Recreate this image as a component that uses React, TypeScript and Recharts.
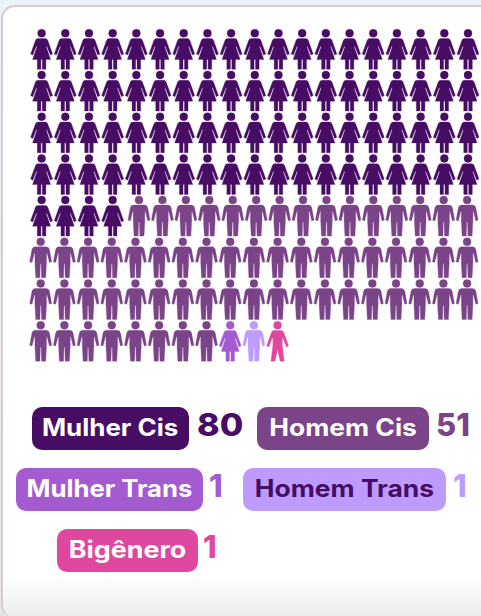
import { Scatter, ScatterChart, XAxis, YAxis } from 'recharts';

const categories = ['Mulher Cis', 'Homem Cis', 'Mulher Trans', 'Homem Trans', 'Bigênero'];
const labelValues = [80, 51, 1, 1, 1];
// the reference draws 61 Homem Cis figures although its label says 51
const iconCounts = [80, 61, 1, 1, 1];
const iconShapes = ['woman', 'man', 'woman', 'man', 'bigender'];
const colors = ['#470C63', '#7B4488', '#A45BD0', '#BD9BFF', '#E0479E'];
const chipTextColors = ['#fff', '#fff', '#fff', '#470C63', '#fff'];

const COLS = 19;
const ROWS = 8;

type Point = { col: number; row: number };

// fill the grid left to right, top to bottom, in category order
function buildSeries() {
  let index = 0;
  return iconCounts.map((count) => {
    const points: Point[] = [];
    for (let i = 0; i < count; i++) {
      const col = index % COLS;
      const row = Math.floor(index / COLS);
      // the men sharing the row with the women sit a bit tighter
      const squeeze = row === 4 && col >= 4 ? (0.15 * (COLS - 1 - col)) / 14 : 0;
      points.push({ col: col + squeeze, row });
      index++;
    }
    return points;
  });
}

const series = buildSeries();

const ICONS: Record<string, string> = {
  woman:
    'M-3.8 5.3L3.8 5.3Q5.4 5.3 6.1 7L11 20.6L8.8 21.8L5.2 12.6L4.7 13.6L9 26.2L4.3 26.2L4.3 36L0.7 36L0.7 26.2L-0.7 26.2L-0.7 36L-4.3 36L-4.3 26.2L-9 26.2L-4.7 13.6L-5.2 12.6L-8.8 21.8L-11 20.6L-6.1 7Q-5.4 5.3 -3.8 5.3Z',
  man: 'M-5.2 5L5.2 5Q8.2 5 8.8 8L11 20L8.7 20.8L6.4 11.5L5.8 11.5L5.8 21L5 36L0.8 36L0.4 22L-0.4 22L-0.8 36L-5 36L-5.8 21L-5.8 11.5L-6.4 11.5L-8.7 20.8L-11 20L-8.8 8Q-8.2 5 -5.2 5Z',
  bigender:
    'M-3.8 5.3L3.8 5.3Q5.4 5.3 6.1 7L11 20.6L8.8 21.8L5.2 12.6L4.7 13.6L4.7 20L6.6 36L2.6 36L0 24L-2.6 36L-6.6 36L-4.7 20L-4.7 13.6L-5.2 12.6L-8.8 21.8L-11 20.6L-6.1 7Q-5.4 5.3 -3.8 5.3Z',
};

function Person({ cx, cy, shape, fill }: { cx: number; cy: number; shape: string; fill: string }) {
  const dx = shape === 'woman' && fill === colors[0] ? 0 : -0.9;
  return (
    <g
      transform={`translate(${cx + dx},${cy})`}
      fill={fill}
      stroke={fill}
      strokeWidth={0.3}
      strokeLinejoin="round"
    >
      <circle r={4} />
      <path d={ICONS[shape]} />
    </g>
  );
}

const chips = [
  { left: 32, top: 407, width: 157, numLeft: 197, stretch: 1.08, numStretch: 1.1 },
  { left: 257, top: 407, width: 172, numLeft: 436, stretch: 1.1, numStretch: 1 },
  { left: 16, top: 468, width: 187, numLeft: 209, stretch: 1.07, numStretch: 1 },
  { left: 243, top: 468, width: 203, numLeft: 453, stretch: 1.1, numStretch: 1 },
  { left: 57, top: 529, width: 141, numLeft: 203, stretch: 1.12, numStretch: 1 },
];

export default function App() {
  return (
    <div
      style={{
        position: 'absolute',
        left: 0,
        top: 0,
        width: 481,
        height: 616,
        overflow: 'hidden',
        background: 'linear-gradient(180deg, #E9F3F9 0, #E9F3F9 20px, #E6E6E6 590px, #E4E4E4 616px)',
        fontFamily: 'Inter, sans-serif',
      }}
    >
      <div
        style={{
          position: 'absolute',
          left: 1,
          top: 5,
          width: 560,
          height: 613,
          boxSizing: 'border-box',
          border: '2px solid #D9CBCF',
          borderBottom: 'none',
          borderRadius: 14,
          background: 'linear-gradient(180deg, #fff 0, #fff 568px, #F6F6F6 590px, #EAEAEA 613px)',
        }}
      />
      <div style={{ position: 'absolute', left: 0, top: 0 }}>
        <ScatterChart
          width={481}
          height={616}
          margin={{ top: 33.3, right: 13, bottom: 290.8, left: 41.6 }}
        >
          <XAxis type="number" dataKey="col" domain={[0, COLS - 1]} hide />
          <YAxis type="number" dataKey="row" domain={[0, ROWS - 1]} reversed hide />
          {categories.map((name, i) => (
            <Scatter
              key={name}
              name={name}
              data={series[i]}
              isAnimationActive={false}
              shape={(props: any) => (
                <Person cx={props.cx} cy={props.cy} shape={iconShapes[i]} fill={colors[i]} />
              )}
            />
          ))}
        </ScatterChart>
      </div>
      {categories.map((name, i) => (
        <div key={name}>
          <div
            style={{
              position: 'absolute',
              left: chips[i].left,
              top: chips[i].top,
              width: chips[i].width,
              height: 42.5,
              lineHeight: '42.5px',
              borderRadius: 10,
              background: colors[i],
              color: chipTextColors[i],
              textAlign: 'center',
              fontSize: 24,
              fontWeight: 700,
              whiteSpace: 'nowrap',
            }}
          >
            <span style={{ display: 'inline-block', transform: `scaleX(${chips[i].stretch})` }}>
              {name}
            </span>
          </div>
          <div
            style={{
              position: 'absolute',
              left: chips[i].numLeft,
              top: chips[i].top - 3.5,
              height: 42.5,
              lineHeight: '42.5px',
              color: colors[i],
              fontSize: 31,
              fontWeight: 800,
              transform: `scaleX(${chips[i].numStretch})`,
              transformOrigin: 'left',
            }}
          >
            {labelValues[i]}
          </div>
        </div>
      ))}
    </div>
  );
}
